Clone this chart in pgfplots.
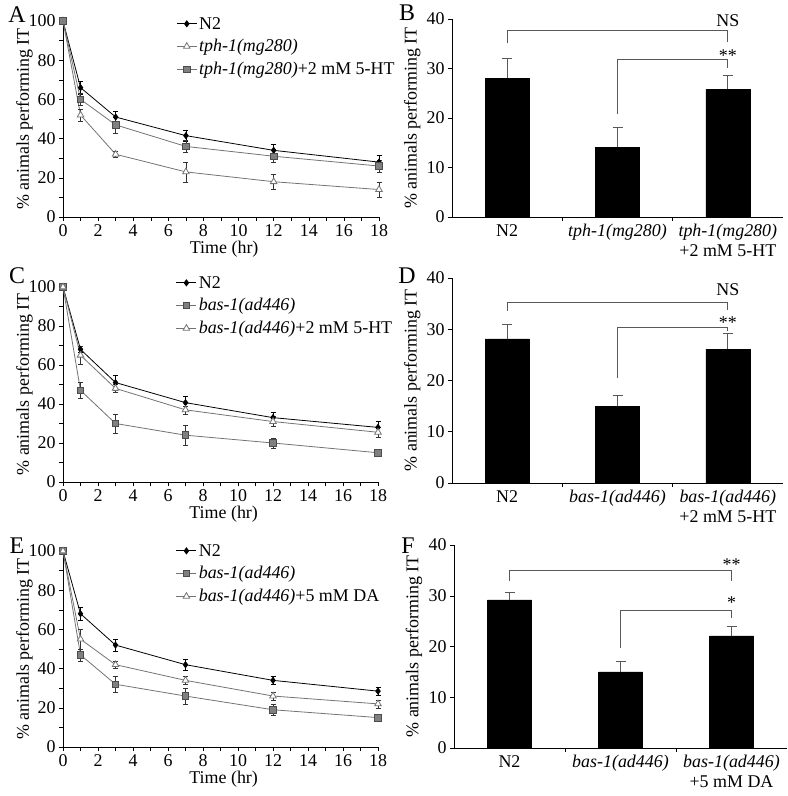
\documentclass[border=0pt]{standalone}
\usepackage{fontspec}
\setmainfont{Liberation Serif}
\usepackage{pgfplots}
\pgfplotsset{compat=1.18}
\definecolor{lgray}{gray}{0.45}
\definecolor{sqfill}{gray}{0.5}
\begin{document}
\begin{tikzpicture}
\path[use as bounding box] (0bp,0bp) rectangle (788bp,796bp);
\pgfplotsset{
  base/.style={scale only axis, axis x line*=bottom, axis y line*=left,
    tick align=outside, major tick length=4bp, minor tick length=4bp,
    every tick/.style={black, line width=0.5pt},
    axis line style={line width=0.6pt},
    font=\fontsize{18}{20}\selectfont,
    tick label style={font=\fontsize{18}{20}\selectfont},
    /pgf/number format/assume math mode=true,
    clip=false},
  lineax/.style={base, xmin=0, xmax=18, ymin=0, ymax=100,
    xtick={0,2,...,18}, minor xtick={1,3,...,17},
    ytick={0,20,...,100}, minor ytick={10,30,...,90},
    xlabel={Time (hr)}, ylabel={\% animals performing IT},
    x label style={at={(axis description cs:0.51,-0.165)}, anchor=center},
    y label style={at={(axis description cs:-0.122,0.5)}, anchor=center},
    legend style={draw=none, fill=none, anchor=north west,
      cells={anchor=west},
      row sep=5bp, inner sep=1bp,
      font=\fontsize{18}{20}\selectfont},
    legend image code/.code={\draw[mark repeat=2,mark phase=2] plot coordinates {(0bp,0bp)(10bp,0bp)(20bp,0bp)};}
  },
  barax/.style={base, xmin=-0.5, xmax=2.5, ymin=0, ymax=40,
    xtick={0,1,2}, major x tick style={draw=none}, minor xtick={0.5,1.5},
    ytick={0,10,...,40},
    xticklabel style={align=center, text depth=0pt},
    ylabel={\% animals performing IT},
    y label style={at={(axis description cs:-0.12,0.5)}, anchor=center}},
  n2/.style={black, line width=0.8pt, mark=diamond*, mark size=3bp, mark options={solid, fill=black, draw=black},
    error bars/.cd, y dir=both, y explicit, error bar style={black, line width=0.5pt}, error mark options={rotate=90, mark size=2.5bp, black}},
  tri/.style={lgray, line width=0.8pt, mark=triangle*, mark size=3.8bp, mark options={solid, fill=white, draw=lgray},
    error bars/.cd, y dir=both, y explicit, error bar style={black!80, line width=0.5pt}, error mark options={rotate=90, mark size=2.5bp, black!80}},
  sq/.style={lgray, line width=0.8pt, mark=square*, mark size=3.3bp, mark options={solid, fill=sqfill, draw=black!70},
    error bars/.cd, y dir=both, y explicit, error bar style={black!80, line width=0.5pt}, error mark options={rotate=90, mark size=2.5bp, black!80}},
  bars/.style={ybar, bar width=44bp, fill=black, draw=black,
    error bars/.cd, y dir=plus, y explicit, error bar style={gray!70!black, line width=0.8pt}, error mark options={rotate=90, mark size=5bp, gray!70!black, line width=0.8pt}},
  brk/.style={gray!70!black, line width=0.8pt, no markers, sharp plot}
}

% ---------------- A ----------------
\begin{axis}[lineax, at={(63bp,579bp)}, anchor=south west, width=316bp, height=196bp,
  legend style={at={(axis description cs:0.355,1.036)}}]
\addplot[n2] table[x=t, y=v, y error=e] {
t v e
0 100 0
1 66 3.5
3 51 3
7 41.5 3
12 34 3
18 28 3.5
};
\addlegendentry{N2}
\addplot[tri] table[x=t, y=v, y error=e] {
t v e
0 100 0
1 52 3
3 32 1.5
7 23 5
12 18 4
18 14 4
};
\addlegendentry{\textit{tph-1(mg280)}}
\addplot[sq] table[x=t, y=v, y error=e] {
t v e
0 100 0
1 60 3
3 47 4
7 36 3
12 31 3
18 26 3
};
\addlegendentry{\textit{tph-1(mg280)}+2 mM 5-HT}
\end{axis}

% ---------------- B ----------------
\begin{axis}[barax, at={(452bp,579bp)}, anchor=south west, width=331bp, height=198bp,
  xticklabels={N2, \textit{tph-1(mg280)}, \textit{tph-1(mg280)}\\+2 mM 5-HT}]
\addplot[bars] coordinates {(0,28) +- (0,4.1) (1,14.1) +- (0,4.1) (2,25.8) +- (0,2.9)};
\addplot[brk] coordinates {(0,35.1) (0,37.6) (2,37.6) (2,35.4)};
\addplot[brk] coordinates {(1,20.8) (1,31.9) (2,31.9) (2,30.0)};
\node[font=\fontsize{18}{20}\selectfont] at (axis cs:2,39.6) {NS};
\node[font=\fontsize{18}{20}\selectfont, anchor=base] at (axis cs:2,31.5) {**};
\end{axis}

% ---------------- C ----------------
\begin{axis}[lineax, at={(63bp,314bp)}, anchor=south west, width=315bp, height=195bp,
  legend style={at={(axis description cs:0.355,1.072)}}]
\addplot[n2] table[x=t, y=v, y error=e] {
t v e
0 100 0
1 68 1.5
3 51 4
7 40.7 3.5
12 33 3
18 28 3
};
\addlegendentry{N2}
\addplot[sq] table[x=t, y=v, y error=e] {
t v e
0 100 0
1 47 4
3 30 5
7 24 5
12 20 2.5
18 15 1
};
\addlegendentry{\textit{bas-1(ad446)}}
\addplot[tri] table[x=t, y=v, y error=e] {
t v e
0 100 0
1 65 4.5
3 48 2
7 37 2
12 31 2.5
18 25.5 2.5
};
\addlegendentry{\textit{bas-1(ad446)}+2 mM 5-HT}
\end{axis}

% ---------------- D ----------------
\begin{axis}[barax, at={(452bp,313bp)}, anchor=south west, width=331bp, height=205bp,
  xticklabels={N2, \textit{bas-1(ad446)}, \textit{bas-1(ad446)}\\+2 mM 5-HT}]
\addplot[bars] coordinates {(0,28.1) +- (0,2.9) (1,15) +- (0,2) (2,26.1) +- (0,3)};
\addplot[brk] coordinates {(0,33.6) (0,35.3) (2,35.3) (2,33.8)};
\addplot[brk] coordinates {(1,20.5) (1,30.4) (2,30.4) (2,29.7)};
\node[font=\fontsize{18}{20}\selectfont] at (axis cs:2,37.7) {NS};
\node[font=\fontsize{18}{20}\selectfont, anchor=base] at (axis cs:2,30.1) {**};
\end{axis}

% ---------------- E ----------------
\begin{axis}[lineax, at={(63bp,49bp)}, anchor=south west, width=315bp, height=196bp,
  legend style={at={(axis description cs:0.355,1.051)}}]
\addplot[n2] table[x=t, y=v, y error=e] {
t v e
0 100 0
1 68 3.5
3 52 3
7 42 3
12 34 2
18 28.5 2
};
\addlegendentry{N2}
\addplot[sq] table[x=t, y=v, y error=e] {
t v e
0 100 0
1 47 3
3 32 4
7 26 4
12 19 3
18 15 1
};
\addlegendentry{\textit{bas-1(ad446)}}
\addplot[tri] table[x=t, y=v, y error=e] {
t v e
0 100 0
1 55 5
3 42 2
7 34 2
12 26 2
18 22 2
};
\addlegendentry{\textit{bas-1(ad446)}+5 mM DA}
\end{axis}

% ---------------- F ----------------
\begin{axis}[barax, at={(454bp,48bp)}, anchor=south west, width=333bp, height=203bp,
  xticklabels={N2, \textit{bas-1(ad446)}, \textit{bas-1(ad446)}\\+5 mM DA}]
\addplot[bars] coordinates {(0,29.2) +- (0,1.5) (1,15) +- (0,2) (2,22.1) +- (0,1.9)};
\addplot[brk] coordinates {(0,32.9) (0,34.9) (2,34.9) (2,32.9)};
\addplot[brk] coordinates {(1,19.7) (1,27.2) (2,27.2) (2,25.6)};
\node[font=\fontsize{18}{20}\selectfont, anchor=base] at (axis cs:2,35.0) {**};
\node[font=\fontsize{18}{20}\selectfont, anchor=base] at (axis cs:2,27.4) {*};
\end{axis}

% panel letters
\node[font=\fontsize{24}{26}\selectfont] at (17bp,781bp) {A};
\node[font=\fontsize{24}{26}\selectfont] at (407bp,783bp) {B};
\node[font=\fontsize{24}{26}\selectfont] at (17bp,520bp) {C};
\node[font=\fontsize{24}{26}\selectfont] at (407bp,520bp) {D};
\node[font=\fontsize{24}{26}\selectfont] at (17bp,250bp) {E};
\node[font=\fontsize{24}{26}\selectfont] at (408bp,250bp) {F};
\end{tikzpicture}
\end{document}
